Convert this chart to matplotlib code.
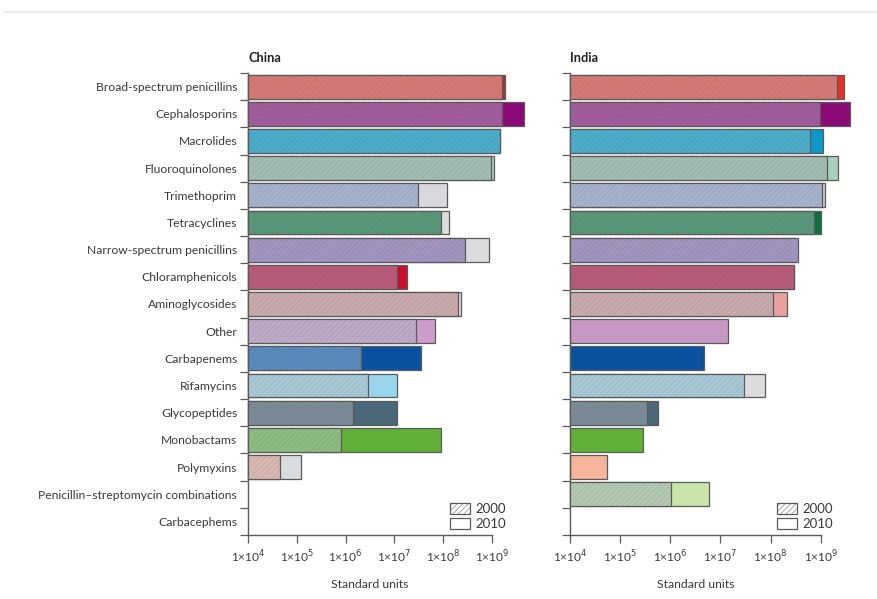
import numpy as np
import matplotlib
matplotlib.use('Agg')
import matplotlib.pyplot as plt
from matplotlib.patches import Patch
from matplotlib.lines import Line2D

plt.rcParams['font.family'] = ['Lato', 'DejaVu Sans']
plt.rcParams['hatch.linewidth'] = 0.35

nan = np.nan
classes = ['Broad-spectrum penicillins', 'Cephalosporins', 'Macrolides', 'Fluoroquinolones',
           'Trimethoprim', 'Tetracyclines', 'Narrow-spectrum penicillins', 'Chloramphenicols',
           'Aminoglycosides', 'Other', 'Carbapenems', 'Rifamycins', 'Glycopeptides',
           'Monobactams', 'Polymyxins', 'Penicillin\u2013streptomycin combinations', 'Carbacephems']

# standard units
china_2000 = [1.6e9, 1.65e9, 1.45e9, 9.5e8, 3.1e7, 9.3e7, 2.8e8, 1.15e7, 2.0e8, 2.75e7,
              2.05e6, 2.9e6, 1.4e6, 8.0e5, 4.5e4, nan, nan]
china_2010 = [1.85e9, 4.7e9, 1.5e9, 1.12e9, 1.23e8, 1.3e8, 8.9e8, 1.8e7, 2.35e8, 6.8e7,
              3.6e7, 1.15e7, 1.12e7, 9.3e7, 1.2e5, nan, nan]
india_2000 = [2.1e9, 9.5e8, 6.0e8, 1.32e9, 1.05e9, 7.4e8, 3.5e8, 2.9e8, 1.1e8, nan,
              nan, 3.0e7, 3.5e5, nan, nan, 1.05e6, nan]
india_2010 = [2.95e9, 3.9e9, 1.1e9, 2.2e9, 1.23e9, 1.02e9, 3.2e8, 2.95e8, 2.15e8, 1.4e7,
              4.7e6, 7.8e7, 5.8e5, 2.9e5, 5.5e4, 6.0e6, nan]

col_2000 = ['#d47a74', '#a05c9c', '#4cacca', '#a2bcb2', '#a6b2cc', '#5a967a', '#a294be',
            '#b85a7a', '#c8aaac', '#bcaac6', '#5a8abc', '#a8c8d6', '#7c8c96', '#8cbc80',
            '#d8b8b0', '#b2c8b0', '#cccccc']
china_col_2010 = ['#b03030', '#8c0a78', '#1498c4', '#a8d0bc', '#d8d9dc', '#dcdcdc', '#dcdcdc',
                  '#c8102e', '#dcdcdc', '#cc9ccc', '#0a52a0', '#98d4ec', '#4a6878', '#60b038',
                  '#d8dce0', '#c8e4a8', '#cccccc']
india_col_2010 = ['#e8302a', '#8c0a78', '#0a98c8', '#a8d0bc', '#c8ccd8', '#0a7040', '#a294be',
                  '#8a1a40', '#e8a0a0', '#c898c4', '#0a52a0', '#dcdcdc', '#4a6878', '#60b038',
                  '#f8b49a', '#c8e4a8', '#cccccc']

txt = '#3a3a3a'
edge = '#5a5a5a'

fig = plt.figure(figsize=(8.78, 5.99), dpi=100)
fig.add_artist(Line2D([0.005, 1.0], [0.98, 0.98], color='#e6e6e6', lw=1.2))

ax1 = fig.add_axes([248.3 / 878, 1 - 535 / 599, 243.4 / 878, 462 / 599])
ax2 = fig.add_axes([570 / 878, 1 - 535 / 599, 250.7 / 878, 462 / 599])

y = np.arange(len(classes))
h = 0.88


def panel(ax, v2000, v2010, c2010, title, labels):
    v2000 = np.array(v2000)
    v2010 = np.array(v2010)
    for i in range(len(classes)):
        if not np.isnan(v2010[i]):
            ax.barh(y[i], v2010[i] - 1e4, left=1e4, height=h, color=c2010[i],
                    edgecolor=edge, lw=0.9, zorder=2, clip_on=False)
        if not np.isnan(v2000[i]):
            ax.barh(y[i], v2000[i] - 1e4, left=1e4, height=h, color=col_2000[i],
                    edgecolor=edge, lw=0.9, zorder=3, clip_on=False)
            ax.barh(y[i], v2000[i] - 1e4, left=1e4, height=h, fill=False,
                    hatch='//////', edgecolor=(0.2, 0.2, 0.2, 0.17), lw=0,
                    zorder=4, clip_on=False)
    ax.set_xscale('log')
    ax.set_xlim(1e4, 1e9)
    ax.set_ylim(len(classes) - 0.5, -0.5)
    ax.set_xticks([1e4, 1e5, 1e6, 1e7, 1e8, 1e9])
    ax.set_xticklabels(['1×10$^{%d}$' % k for k in range(4, 10)], fontsize=8.6, color=txt)
    ax.xaxis.set_minor_locator(matplotlib.ticker.NullLocator())
    ax.set_yticks(np.arange(len(classes) + 1) - 0.5)
    ax.set_yticklabels([])
    ax.set_yticks(y, minor=True)
    if labels:
        ax.set_yticklabels(classes, minor=True, fontsize=8.7, color=txt)
    ax.tick_params(axis='y', which='minor', length=0, pad=8)
    ax.tick_params(axis='y', which='major', length=6, width=0.9, color=edge)
    ax.tick_params(axis='x', length=6, width=0.9, color=edge, pad=4)
    for s in ['top', 'right']:
        ax.spines[s].set_visible(False)
    for s in ['left', 'bottom']:
        ax.spines[s].set_color(edge)
        ax.spines[s].set_linewidth(1.0)
    ax.set_xlabel('Standard units', fontsize=8.8, color=txt, labelpad=10)
    ax.text(0.0, 1.02, title, transform=ax.transAxes, fontsize=9.2, fontweight='bold',
            color='#222222', ha='left', va='bottom')
    handles = [Patch(facecolor='white', edgecolor=edge, hatch='//////', lw=0.9),
               Patch(facecolor='white', edgecolor=edge, lw=0.9)]
    ax.legend(handles, ['2000', '2010'], loc='lower left', bbox_to_anchor=(0.78, -0.015),
              frameon=False, fontsize=9.5, handlelength=1.5, handleheight=0.9,
              handletextpad=0.4, labelspacing=0.2, labelcolor=txt)


panel(ax1, china_2000, china_2010, china_col_2010, 'China', True)
panel(ax2, india_2000, india_2010, india_col_2010, 'India', False)

fig.savefig('out.png', dpi=100)
